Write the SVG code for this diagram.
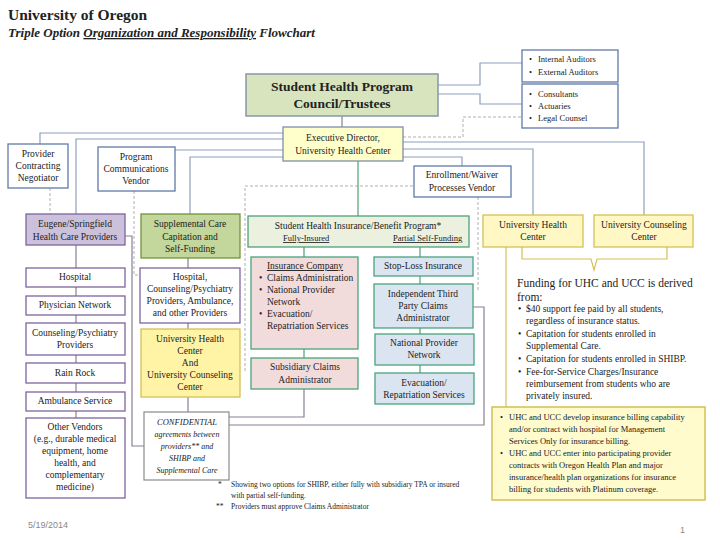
<svg xmlns="http://www.w3.org/2000/svg" width="720" height="540" viewBox="0 0 720 540" font-family="'Liberation Serif', 'Times New Roman', serif">
<style>
text{font-family:"Liberation Serif","Times New Roman",serif;fill:#222}
.t{font-size:9.5px;text-anchor:middle}
.s{font-size:8.5px}
.blue{fill:#fff;stroke:#5f7aa6;stroke-width:1.3}
.purp{fill:#fff;stroke:#7e649e;stroke-width:1.3}
.gr{fill:#ebf1de;stroke:#4aa37a;stroke-width:1.3}
.pk{fill:#f2dcdb;stroke:#4aa37a;stroke-width:1.3}
.lb{fill:#dbe5f1;stroke:#4aa37a;stroke-width:1.3}
.yl{fill:#fff8c4;stroke:#d6bf55;stroke-width:1.3}
.ln{fill:none;stroke:#8ea0bc;stroke-width:1.2}
.lp{fill:none;stroke:#8a7f98;stroke-width:1.2}
.lg{fill:none;stroke:#4aa37a;stroke-width:1.2}
.ly{fill:none;stroke:#d6bf55;stroke-width:1.2}
.ld{fill:none;stroke:#b0b0b0;stroke-width:1;stroke-dasharray:3,2}
</style>

<g id="title">
<text x="8" y="20" style="font-size:15.5px;font-weight:bold">University of Oregon</text>
<text x="8" y="37" style="font-size:13px;font-style:italic;font-weight:bold">Triple Option <tspan text-decoration="underline">Organization and Responsibility</tspan> Flowchart</text>
</g>

<g id="connectors">
<path class="lp" d="M342,116 V127"/>
<path class="ln" d="M438,85 H480 V63 H522 M438,94 H480 V104 H522"/>
<path class="ld" d="M403,137 H463 V117 H522"/>
<path class="ln" d="M283,133 H40 V144 M283,139 H76 V214 M283,150 H175 M283,157 H190 V214"/>
<path class="ln" d="M403,142 H644 V215 M403,149 H533 V215 M403,157 H462 V166"/>
<path class="ld" d="M50,188 V214 M134,191 V275 H140"/>
<path class="ld" d="M413,186 H245 V373 M478,197 V290"/>
<path class="lg" d="M358,161 V216"/>
<path class="lp" d="M76,245 V418"/>
<path class="lp" d="M125,236 H132 V446 H144"/>
<path class="lp" d="M188,258 V268 M188,323 V329 M188,397 V412"/>
<path class="lg" d="M304,247 V257 M304,349 V358 M420,247 V257 M420,276 V284 M420,328 V334 M420,365 V373"/>
<path class="lp" d="M304,389 V417 H229 M473,307 H484 V425 H229"/>
<path class="ly" d="M522,247 V259 H591 L594,270 L597,259 H667 V247"/>
<path class="ly" d="M506,247 V407"/>
</g>

<g id="council">
<rect x="246" y="74" width="192" height="42" fill="#d7e4bd" stroke="#8797a8" stroke-width="1.5"/>
<text x="342" y="91" style="font-size:13.5px;font-weight:bold;text-anchor:middle">Student Health Program</text>
<text x="342" y="108" style="font-size:13.5px;font-weight:bold;text-anchor:middle">Council/Trustees</text>
</g>

<g id="auditors">
<rect class="blue" x="522" y="50" width="96" height="32"/>
<text class="s" x="529" y="62">•</text><text class="s" x="538" y="62">Internal Auditors</text>
<text class="s" x="529" y="75">•</text><text class="s" x="538" y="75">External Auditors</text>
</g>
<g id="consultants">
<rect class="blue" x="522" y="84" width="96" height="44"/>
<text class="s" x="529" y="97">•</text><text class="s" x="538" y="97">Consultants</text>
<text class="s" x="529" y="109">•</text><text class="s" x="538" y="109">Actuaries</text>
<text class="s" x="529" y="121">•</text><text class="s" x="538" y="121">Legal Counsel</text>
</g>

<g id="exec">
<rect x="283" y="127" width="120" height="34" fill="#ffffcc" stroke="#7f8fa6" stroke-width="1.3"/>
<text class="t" x="343" y="141">Executive Director,</text>
<text class="t" x="343" y="154">University Health Center</text>
</g>

<g id="provider-negotiator">
<rect class="blue" x="8" y="144" width="60" height="44"/>
<text class="t" x="38" y="157">Provider</text>
<text class="t" x="38" y="169">Contracting</text>
<text class="t" x="38" y="181">Negotiator</text>
</g>
<g id="program-comm">
<rect class="blue" x="98" y="147" width="77" height="44"/>
<text class="t" x="136" y="160">Program</text>
<text class="t" x="136" y="172">Communications</text>
<text class="t" x="136" y="184">Vendor</text>
</g>
<g id="enrollment">
<rect class="blue" x="414" y="166" width="97" height="31"/>
<text class="t" x="462" y="178">Enrollment/Waiver</text>
<text class="t" x="462" y="191">Processes Vendor</text>
</g>

<g id="eugene">
<rect x="26" y="214" width="99" height="31" fill="#ccc1da" stroke="#7e649e" stroke-width="1.3"/>
<text class="t" x="75" y="227">Eugene/Springfield</text>
<text class="t" x="75" y="240">Health Care Providers</text>
</g>
<g id="supplemental">
<rect x="141" y="214" width="99" height="44" fill="#c3d69b" stroke="#76923c" stroke-width="1.3"/>
<text class="t" x="190" y="227">Supplemental Care</text>
<text class="t" x="190" y="240">Capitation and</text>
<text class="t" x="190" y="252">Self-Funding</text>
</g>
<g id="shibp">
<rect class="gr" x="248" y="216" width="221" height="31"/>
<text class="t" x="358" y="229">Student Health Insurance/Benefit Program*</text>
<text class="s" x="283" y="241" text-decoration="underline">Fully-Insured</text>
<text class="s" x="393" y="241" text-decoration="underline">Partial Self-Funding</text>
</g>
<g id="uhc">
<rect class="yl" x="483" y="215" width="100" height="32"/>
<text class="t" x="533" y="228">University Health</text>
<text class="t" x="533" y="240">Center</text>
</g>
<g id="ucc">
<rect class="yl" x="594" y="215" width="99" height="32"/>
<text class="t" x="644" y="228">University Counseling</text>
<text class="t" x="644" y="240">Center</text>
</g>

<g id="hospital"><rect class="purp" x="26" y="268" width="99" height="19"/><text class="t" x="75" y="280">Hospital</text></g>
<g id="physician"><rect class="purp" x="26" y="296" width="99" height="19"/><text class="t" x="75" y="308">Physician Network</text></g>
<g id="counseling"><rect class="purp" x="26" y="323" width="99" height="32"/><text class="t" x="75" y="336">Counseling/Psychiatry</text><text class="t" x="75" y="348">Providers</text></g>
<g id="rainrock"><rect class="purp" x="26" y="363" width="99" height="20"/><text class="t" x="75" y="376">Rain Rock</text></g>
<g id="ambulance"><rect class="purp" x="26" y="392" width="99" height="19"/><text class="t" x="75" y="404">Ambulance Service</text></g>
<g id="other-vendors"><rect class="purp" x="26" y="418" width="99" height="80"/>
<text class="t" x="75" y="430">Other Vendors</text>
<text class="t" x="75" y="442">(e.g.,  durable medical</text>
<text class="t" x="75" y="454">equipment, home</text>
<text class="t" x="75" y="466">health, and</text>
<text class="t" x="75" y="478">complementary</text>
<text class="t" x="75" y="490">medicine)</text>
</g>

<g id="supp-providers"><rect class="purp" x="140" y="268" width="100" height="55"/>
<text class="t" x="190" y="280">Hospital,</text>
<text class="t" x="190" y="292">Counseling/Psychiatry</text>
<text class="t" x="190" y="304">Providers, Ambulance,</text>
<text class="t" x="190" y="316">and other Providers</text>
</g>
<g id="uhc-ucc"><rect x="141" y="329" width="99" height="68" fill="#fff4a6" stroke="#d6bf55" stroke-width="1.3"/>
<text class="t" x="190" y="342">University Health</text>
<text class="t" x="190" y="354">Center</text>
<text class="t" x="190" y="366">And</text>
<text class="t" x="190" y="378">University Counseling</text>
<text class="t" x="190" y="390">Center</text>
</g>
<g id="confidential"><rect x="144" y="412" width="85" height="68" fill="#fff" stroke="#8a8a8a" stroke-width="1.2"/>
<text x="187" y="425" style="font-size:8.5px;font-style:italic;text-anchor:middle">CONFIDENTIAL</text>
<text x="187" y="437" style="font-size:8px;font-style:italic;text-anchor:middle">agreements between</text>
<text x="187" y="449" style="font-size:8px;font-style:italic;text-anchor:middle">providers**  and</text>
<text x="187" y="461" style="font-size:8px;font-style:italic;text-anchor:middle">SHIBP and</text>
<text x="187" y="473" style="font-size:8px;font-style:italic;text-anchor:middle">Supplemental Care</text>
</g>

<g id="insurance-company"><rect class="pk" x="251" y="257" width="107" height="92"/>
<text class="t" x="305" y="269" text-decoration="underline">Insurance Company</text>
<text class="t" x="259" y="281" style="text-anchor:start">•</text><text class="t" x="267" y="281" style="text-anchor:start">Claims Administration</text>
<text class="t" x="259" y="293" style="text-anchor:start">•</text><text class="t" x="267" y="293" style="text-anchor:start">National Provider</text>
<text class="t" x="267" y="305" style="text-anchor:start">Network</text>
<text class="t" x="259" y="317" style="text-anchor:start">•</text><text class="t" x="267" y="317" style="text-anchor:start">Evacuation/</text>
<text class="t" x="267" y="329" style="text-anchor:start">Repatriation Services</text>
</g>
<g id="subsidiary"><rect class="pk" x="251" y="358" width="107" height="31"/>
<text class="t" x="305" y="370">Subsidiary Claims</text>
<text class="t" x="305" y="383">Administrator</text>
</g>
<g id="stop-loss"><rect class="lb" x="374" y="257" width="99" height="19"/><text class="t" x="423" y="269">Stop-Loss Insurance</text></g>
<g id="tpa"><rect class="lb" x="374" y="284" width="99" height="44"/>
<text class="t" x="423" y="297">Independent Third</text>
<text class="t" x="423" y="309">Party Claims</text>
<text class="t" x="423" y="321">Administrator</text>
</g>
<g id="npn"><rect class="lb" x="375" y="334" width="99" height="31"/>
<text class="t" x="424" y="346">National Provider</text>
<text class="t" x="424" y="358">Network</text>
</g>
<g id="evac"><rect class="lb" x="375" y="373" width="99" height="31"/>
<text class="t" x="424" y="386">Evacuation/</text>
<text class="t" x="424" y="398">Repatriation Services</text>
</g>

<g id="funding">
<text x="517" y="287" style="font-size:11.5px">Funding for UHC and UCC is derived</text>
<text x="517" y="301" style="font-size:11.5px">from:</text>
<g style="font-size:9.5px">
<text x="518" y="312">•</text><text x="526" y="312">$40 support fee paid by all students,</text>
<text x="526" y="324">regardless of insurance status.</text>
<text x="518" y="337">•</text><text x="526" y="337">Capitation for students enrolled in</text>
<text x="526" y="349">Supplemental Care.</text>
<text x="518" y="362">•</text><text x="526" y="362">Capitation for students enrolled in SHIBP.</text>
<text x="518" y="375">•</text><text x="526" y="375">Fee-for-Service Charges/Insurance</text>
<text x="526" y="387">reimbursement from students who are</text>
<text x="526" y="399">privately insured.</text>
</g>
</g>

<g id="billing">
<rect x="492" y="407" width="213" height="93" fill="#fffbcc" stroke="#d6bf55" stroke-width="1.5"/>
<g style="font-size:8.5px">
<text x="500" y="420">•</text><text x="509" y="420">UHC and UCC develop insurance billing capability</text>
<text x="509" y="432">and/or contract with hospital for Management</text>
<text x="509" y="444">Services Only for insurance billing.</text>
<text x="500" y="456">•</text><text x="509" y="456">UHC and UCC enter into participating provider</text>
<text x="509" y="468">contracts with Oregon Health Plan  and major</text>
<text x="509" y="480">insurance/health plan organizations for insurance</text>
<text x="509" y="492">billing for students with Platinum coverage.</text>
</g>
</g>

<g id="footnotes" style="font-size:7.5px">
<text x="218" y="487">*</text><text x="231" y="487">Showing two options for SHIBP, either fully with subsidiary TPA or insured</text>
<text x="231" y="498">with partial self-funding.</text>
<text x="216" y="509">**</text><text x="231" y="509">Providers must approve Claims Administrator</text>
</g>

<text x="28" y="528" style="font-size:9px;fill:#888;font-family:'Liberation Sans',Arial,sans-serif">5/19/2014</text>
<text x="680" y="533" style="font-size:9px;fill:#888;font-family:'Liberation Sans',Arial,sans-serif">1</text>
</svg>
